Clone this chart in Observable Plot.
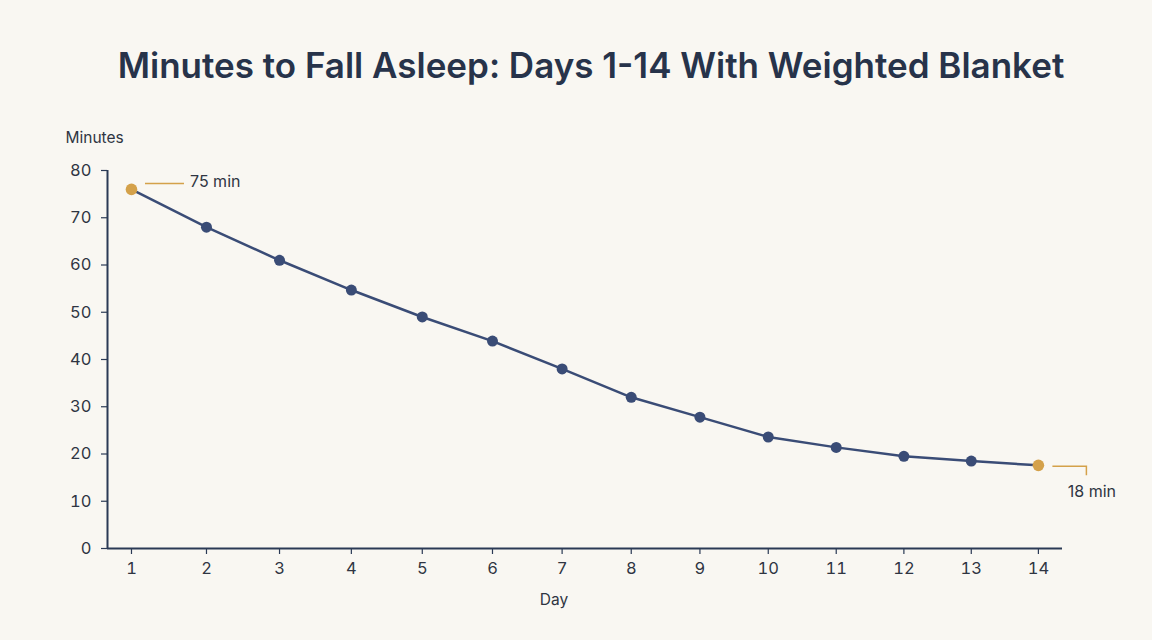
<!DOCTYPE html>
<html>
<head>
<meta charset="utf-8">
<script src="https://cdn.jsdelivr.net/npm/d3@7"></script>
<script src="https://cdn.jsdelivr.net/npm/@observablehq/plot@0.6"></script>
<style>
  html, body { margin: 0; padding: 0; background: #f9f7f2; }
  #title {
    height: 110px; box-sizing: border-box; padding-top: 45px; padding-left: 30px;
    text-align: center; font-family: Inter, "Noto Sans", sans-serif; font-weight: 600;
    font-size: 35px; line-height: 40px; color: #27334a; white-space: nowrap;
  }
  #chart svg { display: block; }
</style>
</head>
<body>
<div id="title">Minutes to Fall Asleep: Days 1-14 With Weighted Blanket</div>
<div id="chart"></div>
<script>
const days = [1, 2, 3, 4, 5, 6, 7, 8, 9, 10, 11, 12, 13, 14];
const minutes = [76, 68, 61, 54.7, 49, 43.9, 38, 32, 27.8, 23.6, 21.4, 19.5, 18.5, 17.6];
const yTicks = [0, 10, 20, 30, 40, 50, 60, 70, 80];
const endDays = [1, 14];
const endLabels = ["75 min", "18 min"];
const xDomain = [0.689, 14.36];
const yDomain = [0, 80];

const navy = "#3a4c76";
const gold = "#d4a14a";
const axisColor = "#2b3a55";
const textColor = "#2f3542";

const data = days.map((d, i) => ({day: d, minutes: minutes[i]}));
const ends = endDays.map((d, i) => ({day: d, minutes: minutes[days.indexOf(d)], label: endLabels[i]}));
const mids = data.filter(d => !endDays.includes(d.day));

// leader-line symbols drawn relative to the point
const leaderStart = {draw(ctx) { ctx.moveTo(13.5, -6); ctx.lineTo(52.5, -6); }};
const leaderEnd = {draw(ctx) { ctx.moveTo(14, 1); ctx.lineTo(48, 1); ctx.lineTo(48, 10); }};

const chart = Plot.plot({
  width: 1152,
  height: 530,
  marginTop: 60,
  marginBottom: 92,
  marginLeft: 107,
  marginRight: 90,
  style: {fontFamily: "Inter, 'Noto Sans', sans-serif", fontSize: "16px", color: textColor, background: "transparent", overflow: "visible"},
  x: {type: "pow", exponent: 0.95, domain: xDomain},
  y: {domain: yDomain},
  marks: [
    Plot.axisY({ticks: yTicks, tickSize: 6, tickPadding: 10, label: null, stroke: axisColor, strokeWidth: 1.2, fill: textColor, fontSize: 16.5}),
    Plot.axisX({ticks: days, tickSize: 6, tickPadding: 8, label: null, tickFormat: d => String(d), stroke: axisColor, strokeWidth: 1.2, fill: textColor, fontSize: 16.5}),
    Plot.ruleY([yDomain[0]], {stroke: axisColor, strokeWidth: 2}),
    Plot.ruleX([xDomain[0]], {y1: yDomain[0], y2: yDomain[1], stroke: axisColor, strokeWidth: 2}),
    Plot.text(["Minutes"], {frameAnchor: "top-left", dx: -42, dy: -39, textAnchor: "start", fontSize: 15.5, fill: textColor}),
    Plot.text(["Day"], {frameAnchor: "bottom", dx: -31, dy: 56, fontSize: 15.5, fill: textColor}),
    Plot.line(data, {x: "day", y: "minutes", stroke: navy, strokeWidth: 2.5}),
    Plot.dot(mids, {x: "day", y: "minutes", r: 5.5, fill: navy}),
    Plot.dot(ends, {x: "day", y: "minutes", r: 5.8, fill: gold}),
    Plot.dot(ends.filter(d => d.day === endDays[0]), {x: "day", y: "minutes", symbol: leaderStart, stroke: gold, strokeWidth: 1.5, fill: "none"}),
    Plot.dot(ends.filter(d => d.day === endDays[1]), {x: "day", y: "minutes", symbol: leaderEnd, stroke: gold, strokeWidth: 1.5, fill: "none"}),
    Plot.text(ends.filter(d => d.day === endDays[0]), {x: "day", y: "minutes", text: "label", dx: 58.5, dy: -8, textAnchor: "start", fontSize: 16, fill: textColor}),
    Plot.text(ends.filter(d => d.day === endDays[1]), {x: "day", y: "minutes", text: "label", dx: 53.5, dy: 27, textAnchor: "middle", fontSize: 16, fill: textColor})
  ]
});
document.getElementById("chart").appendChild(chart);
</script>
</body>
</html>
